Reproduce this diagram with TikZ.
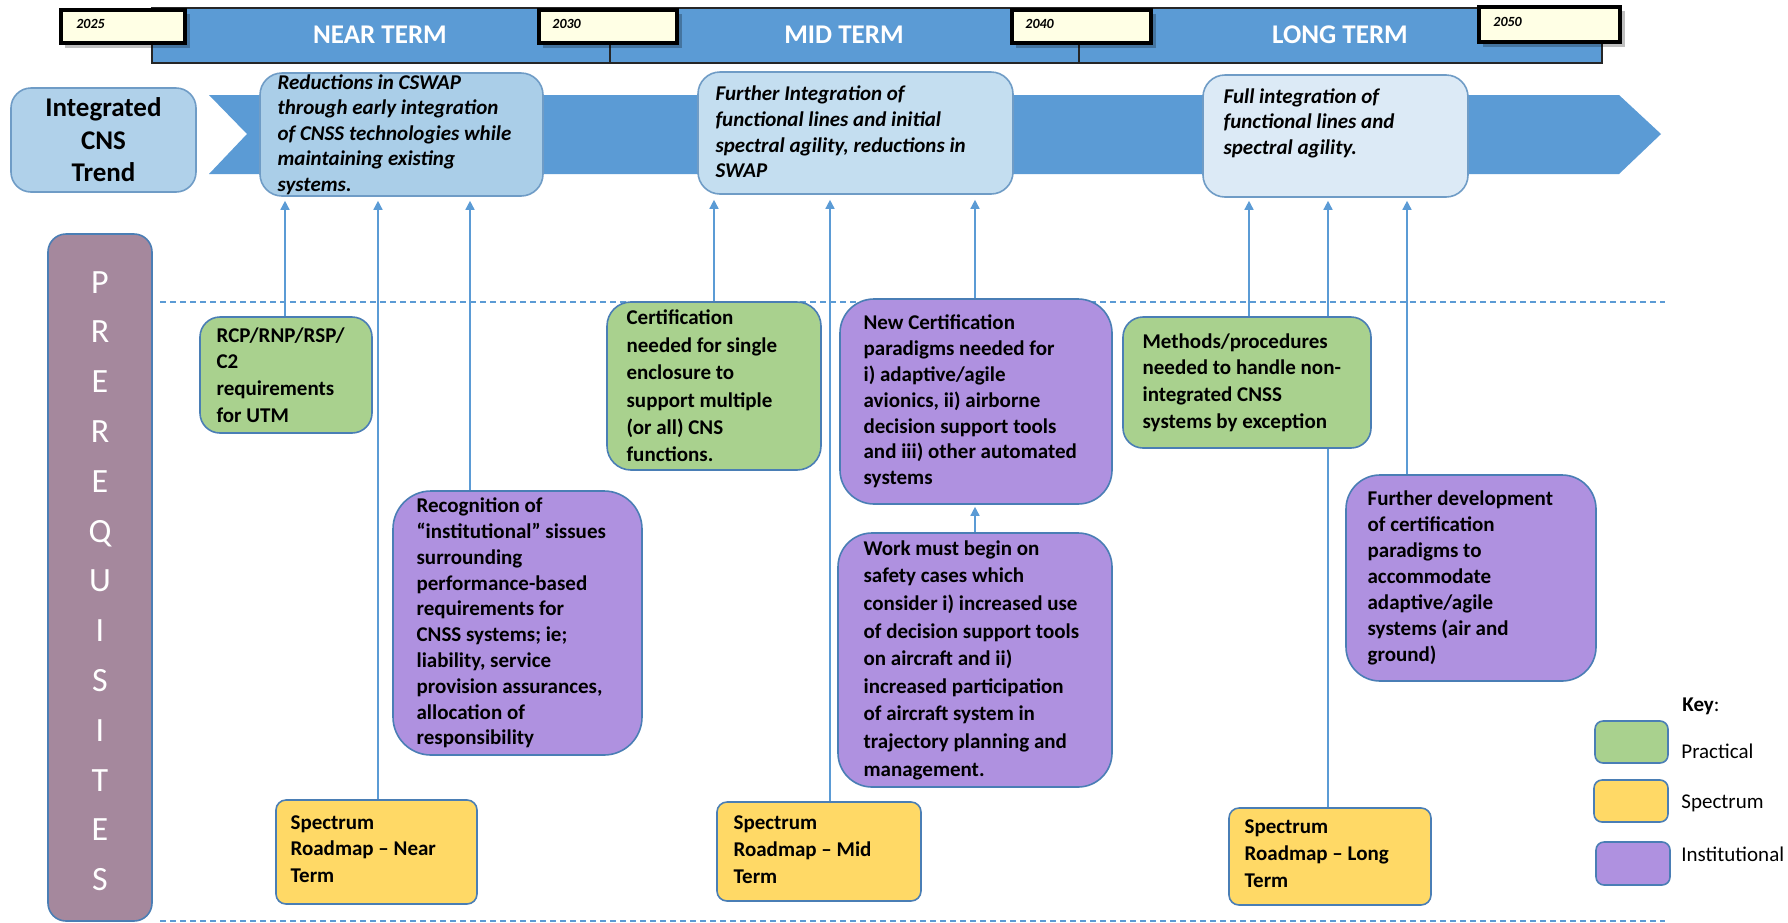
\documentclass[tikz,border=0pt]{standalone}
\usepackage{fontspec}
\setmainfont{Carlito}
\usetikzlibrary{arrows.meta,calc,fit}
\definecolor{band}{HTML}{5B9BD5}
\definecolor{arrowc}{HTML}{5B9BD5}
\definecolor{tborder}{HTML}{6F9CC6}
\definecolor{nearfill}{HTML}{AACEE8}
\definecolor{intfill}{HTML}{B0D1EA}
\definecolor{midfill}{HTML}{C4DEF0}
\definecolor{longfill}{HTML}{DCEAF6}
\definecolor{practical}{HTML}{A9D18E}
\definecolor{spectr}{HTML}{FFD966}
\definecolor{instit}{HTML}{AF91E0}
\definecolor{kborder}{HTML}{4A7EB5}
\definecolor{prereq}{HTML}{A5889D}
\definecolor{yearfill}{HTML}{FFFFE5}
\pgfdeclarelayer{bg}
\pgfsetlayers{bg,main}
\begin{document}
\begin{tikzpicture}[x=0.5pt,y=-0.5pt,
  arr/.style={draw=arrowc, line width=0.75pt, -{Triangle[length=4.5pt,width=4.5pt]}},
  dashline/.style={draw=arrowc, line width=0.6pt, dash pattern=on 3pt off 2pt},
  tbox/.style={draw=tborder, line width=0.8pt, rounded corners=11pt, inner sep=0pt},
  gbox/.style={draw=kborder, fill=practical, line width=0.8pt, rounded corners=10pt, inner sep=0pt},
  pbox/.style={draw=kborder, fill=instit, line width=0.8pt, rounded corners=17pt, inner sep=0pt},
  ybox/.style={draw=kborder, fill=spectr, line width=0.8pt, rounded corners=5pt, inner sep=0pt},
  kbox/.style={draw=kborder, line width=0.8pt, rounded corners=4pt, inner sep=0pt},
  yearbox/.style={draw=black, fill=yearfill, line width=2pt, inner sep=0pt},
  yearshadow/.style={fill=black, opacity=0.25, draw=none},
  yeartext/.style={font=\fontsize{7}{8}\selectfont\bfseries\itshape, anchor=west, inner sep=0pt},
  bandseg/.style={draw=black!85, fill=band, line width=0.6pt},
  termtext/.style={font=\fontsize{13.5}{16}\selectfont\bfseries, text=white, inner sep=0pt},
  btext/.style={font=\fontsize{10.5}{13.4}\selectfont\bfseries, align=left, inner sep=0pt, anchor=west},
  itext/.style={font=\fontsize{10.5}{12.8}\selectfont\bfseries\itshape, align=left, inner sep=0pt, anchor=west},
  keytext/.style={font=\fontsize{10.5}{12.8}\selectfont, anchor=west, inner sep=0pt}
]
\useasboundingbox (0,0) rectangle (1788,922);

% ---------- top band ----------
\draw[bandseg] (152,8) rectangle (610,63);
\draw[bandseg] (610,8) rectangle (1079,63);
\draw[bandseg] (1079,8) rectangle (1602,63);
\node[termtext] (tnear) at (380,35) {NEAR TERM};
\node[termtext] (tmid) at (844,35) {MID TERM};
\node[termtext] (tlong) at (1340,35) {LONG TERM};

\fill[yearshadow] (65,14) rectangle (190,48);
\fill[yearshadow] (543,14) rectangle (682,48);
\fill[yearshadow] (1016,14) rectangle (1156,48);
\fill[yearshadow] (1483,11) rectangle (1625,47);
\node[yearbox, fit={(61,10)(185,43)}] (y25) {};
\node[yearbox, fit={(539,10)(677,43)}] (y30) {};
\node[yearbox, fit={(1012,10)(1151,43)}] (y40) {};
\node[yearbox, fit={(1479,7)(1620,42)}] (y50) {};
\node[yeartext] (y25t) at (76,24) {2025};
\node[yeartext] (y30t) at (552,24) {2030};
\node[yeartext] (y40t) at (1025,24) {2040};
\node[yeartext] (y50t) at (1493,22) {2050};

% ---------- trend arrow ----------
\fill[band] (209,95) -- (1619,95) -- (1661,134) -- (1619,174) -- (209,174) -- (247,134) -- cycle;

\node[tbox, fill=intfill, rounded corners=10pt, fit={(11,88)(196,192)}] (integ) {};
\node[font=\fontsize{13.5}{16.25}\selectfont\bfseries, align=center, inner sep=0pt] (integT) at (integ.center) {Integrated\\CNS\\Trend};

\node[tbox, fill=nearfill, fit={(260,73)(543,196)}] (near) {};
\node[tbox, fill=midfill, fit={(698,72)(1013,194)}] (mid) {};
\node[tbox, fill=longfill, fit={(1203,75)(1468,197)}] (long) {};
\node[itext] (nearT) at ($(near.west)+(18,0)$) {Reductions in CSWAP\\through early integration\\of CNSS technologies while\\maintaining existing\\systems.};
\node[itext] (midT) at ($(mid.west)+(18,-1)$) {Further Integration of\\functional lines and initial\\spectral agility, reductions in\\SWAP};
\node[itext] (longT) at ($(long.west)+(21,-13)$) {Full integration of\\functional lines and\\spectral agility.};

% ---------- prerequisites bar ----------
\node[draw=kborder, fill=prereq, line width=0.8pt, rounded corners=9pt, inner sep=0pt, fit={(48,234)(152,921)}] (pre) {};
\node[font=\fontsize{17}{24.9}\selectfont, text=white, align=center, inner sep=0pt] (preT) at (100,581) {P\\R\\E\\R\\E\\Q\\U\\I\\S\\I\\T\\E\\S};

% ---------- prerequisite boxes ----------
\node[gbox, fit={(200,317)(372,433)}] (rcp) {};
\node[btext] (rcpT) at ($(rcp.west)+(17,0)$) {RCP/RNP/RSP/\\C2\\requirements\\for UTM};

\node[gbox, rounded corners=12pt, fit={(607,302)(821,470)}] (cert) {};
\node[btext, font=\fontsize{10.5}{13.7}\selectfont\bfseries] (certT) at ($(cert.west)+(20,0)$) {Certification\\needed for single\\enclosure to\\support multiple\\(or all) CNS\\functions.};

\node[gbox, fit={(1123,317)(1371,448)}] (meth) {};
\node[btext] (methT) at ($(meth.west)+(20,0)$) {Methods/procedures\\needed to handle non-\\integrated CNSS\\systems by exception};

\node[pbox, rounded corners=19pt, fit={(393,491)(642,755)}] (rec) {};
\node[btext, font=\fontsize{10.5}{12.9}\selectfont\bfseries] (recT) at ($(rec.west)+(24,0)$) {Recognition of\\“institutional” sissues\\surrounding\\performance-based\\requirements for\\CNSS systems; ie;\\liability, service\\provision assurances,\\allocation of\\responsibility};

\node[pbox, fit={(840,299)(1112,504)}] (newc) {};
\node[btext, font=\fontsize{10.5}{12.9}\selectfont\bfseries] (newcT) at ($(newc.west)+(24,0)$) {New Certification\\paradigms needed for\\i) adaptive/agile\\avionics, ii) airborne\\decision support tools\\and iii) other automated\\systems};

\node[pbox, fit={(838,533)(1112,787)}] (work) {};
\node[btext, font=\fontsize{10.5}{13.8}\selectfont\bfseries] (workT) at ($(work.west)+(26,0)$) {Work must begin on\\safety cases which\\consider i) increased use\\of decision support tools\\on aircraft and ii)\\increased participation\\of aircraft system in\\trajectory planning and\\management.};

\node[pbox, fit={(1346,475)(1596,681)}] (furth) {};
\node[btext, font=\fontsize{10.5}{13}\selectfont\bfseries] (furthT) at ($(furth.west)+(22,0)$) {Further development\\of certification\\paradigms to\\accommodate\\adaptive/agile\\systems (air and\\ground)};

\node[ybox, fit={(276,800)(477,904)}] (specN) {};
\node[btext] (specNT) at ($(specN.west)+(15,-3)$) {Spectrum\\Roadmap -- Near\\Term};
\node[ybox, fit={(717,802)(921,901)}] (specM) {};
\node[btext] (specMT) at ($(specM.west)+(17,-2)$) {Spectrum\\Roadmap -- Mid\\Term};
\node[ybox, fit={(1229,808)(1431,905)}] (specL) {};
\node[btext] (specLT) at ($(specL.west)+(16,-3)$) {Spectrum\\Roadmap -- Long\\Term};

% ---------- key ----------
\node[font=\fontsize{10.5}{12.8}\selectfont, anchor=west, inner sep=0pt] (keyT) at (1682,706) {\textbf{Key}:};
\node[kbox, fill=practical, fit={(1595,721)(1668,763)}] (keyG) {};
\node[kbox, fill=spectr, fit={(1594,780)(1668,822)}] (keyY) {};
\node[kbox, fill=instit, fit={(1596,842)(1670,885)}] (keyP) {};
\node[keytext] (keyGT) at (1681,751) {Practical};
\node[keytext] (keyYT) at (1681,803) {Spectrum};
\node[keytext] (keyPT) at (1681,854) {Institutional};

% ---------- connectors (behind boxes) ----------
\begin{pgfonlayer}{bg}
\fill[white] (0,0) rectangle (1788,922);
\draw[dashline] (160,302) -- (1665,302);
\draw[dashline] (160,921) -- (1665,921);
\draw[arr, shorten >=2pt] (285,0 |- rcp.north) -- (285,0 |- near.south);
\draw[arr, shorten >=2pt] (378,0 |- specN.north) -- (378,0 |- near.south);
\draw[arr, shorten >=2pt] (470,0 |- rec.north) -- (470,0 |- near.south);
\draw[arr, shorten >=2.5pt] (714,0 |- cert.north) -- (714,0 |- mid.south);
\draw[arr, shorten >=2.5pt] (830,0 |- specM.north) -- (830,0 |- mid.south);
\draw[arr, shorten >=2.5pt] (975,0 |- newc.north) -- (975,0 |- mid.south);
\draw[arr, shorten >=1pt] (975,0 |- work.north) -- (975,0 |- newc.south);
\draw[arr, shorten >=1.5pt] (1249,0 |- meth.north) -- (1249,0 |- long.south);
\draw[arr, shorten >=1.5pt] (1328,0 |- specL.north) -- (1328,0 |- long.south);
\draw[arr, shorten >=1.5pt] (1407,0 |- furth.north) -- (1407,0 |- long.south);
\end{pgfonlayer}
\end{tikzpicture}
\end{document}
